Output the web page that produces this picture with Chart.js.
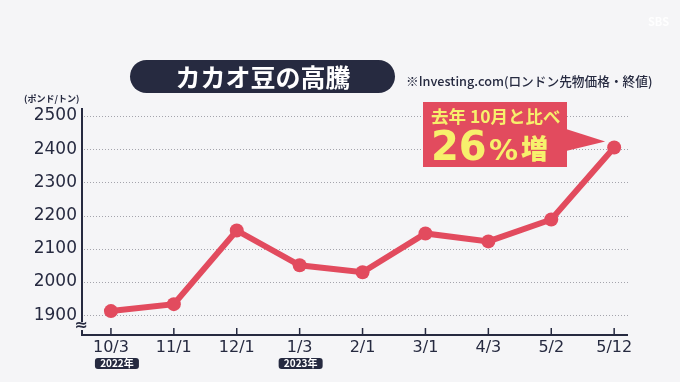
<!DOCTYPE html>
<html>
<head>
<meta charset="utf-8">
<script src="https://cdn.jsdelivr.net/npm/chart.js@4.4.1/dist/chart.umd.min.js"></script>
<style>
  html, body { margin: 0; padding: 0; background: #f5f5f7; }
  #wrap { width: 680px; height: 382px; }
</style>
</head>
<body>
<div id="wrap"><canvas id="cacaoChart" width="680" height="382"></canvas></div>
<script>
// data
const labels = ['10/3', '11/1', '12/1', '1/3', '2/1', '3/1', '4/3', '5/2', '5/12'];
const prices = [1912, 1933, 2155, 2050, 2029, 2146, 2122, 2188, 2405];
const yTicks = [1900, 2000, 2100, 2200, 2300, 2400, 2500];
const yearTags = { 0: '2022年', 3: '2023年' };

const NAVY = '#262a40';
const RED = '#e24b5e';
const YELLOW = '#f7f06c';
const JP = '"Noto Sans CJK JP", "Noto Sans", sans-serif';
const NUM = '"DejaVu Sans", sans-serif';

function roundRect(ctx, x, y, w, h, r) {
  ctx.beginPath();
  ctx.moveTo(x + r, y);
  ctx.lineTo(x + w - r, y);
  ctx.arcTo(x + w, y, x + w, y + r, r);
  ctx.lineTo(x + w, y + h - r);
  ctx.arcTo(x + w, y + h, x + w - r, y + h, r);
  ctx.lineTo(x + r, y + h);
  ctx.arcTo(x, y + h, x, y + h - r, r);
  ctx.lineTo(x, y + r);
  ctx.arcTo(x, y, x + r, y, r);
  ctx.closePath();
}

// background fill
const bgPlugin = {
  id: 'bg',
  beforeDraw(chart) {
    const c = chart.ctx;
    c.save();
    c.fillStyle = '#f5f5f7';
    c.fillRect(0, 0, chart.width, chart.height);
    c.restore();
  }
};

// dotted grid, axes lines, tick marks, break mark, year tags
const axisPlugin = {
  id: 'axisDeco',
  beforeDatasetsDraw(chart) {
    const c = chart.ctx;
    const a = chart.chartArea;
    const xs = chart.scales.x, ys = chart.scales.y;
    c.save();
    c.strokeStyle = '#a4a4ac';
    c.lineWidth = 1;
    c.setLineDash([1, 2]);
    yTicks.forEach(v => {
      const py = Math.round(ys.getPixelForValue(v)) + 0.5;
      c.beginPath();
      c.moveTo(a.left + 2, py);
      c.lineTo(a.right, py);
      c.stroke();
    });
    c.setLineDash([]);
    c.strokeStyle = NAVY;
    c.lineWidth = 2;
    c.beginPath();
    c.moveTo(a.left, a.top);
    c.lineTo(a.left, a.bottom);
    c.lineTo(a.right, a.bottom);
    c.stroke();
    c.lineWidth = 1.5;
    labels.forEach((l, i) => {
      const px = xs.getPixelForValue(i);
      c.beginPath();
      c.moveTo(px, a.bottom);
      c.lineTo(px, a.bottom - 7);
      c.stroke();
    });
    // break mark on y axis
    c.fillStyle = '#f5f5f7';
    c.fillRect(a.left - 4, a.bottom - 13, 8, 8);
    c.fillStyle = NAVY;
    c.font = 'bold 16px ' + NUM;
    c.textAlign = 'center';
    c.textBaseline = 'middle';
    c.fillText('≈', a.left - 1, a.bottom - 9);
    // year tags
    c.font = 'bold 10px ' + JP;
    Object.keys(yearTags).forEach(k => {
      const px = xs.getPixelForValue(Number(k)) + (k === '0' ? 6 : 1);
      c.fillStyle = NAVY;
      roundRect(c, px - 22, 358, 44, 11, 3);
      c.fill();
      c.fillStyle = '#ffffff';
      c.fillText(yearTags[k], px, 363.5);
    });
    c.restore();
  }
};

// title pill, source note, unit, callout
const textPlugin = {
  id: 'texts',
  afterDraw(chart) {
    const c = chart.ctx;
    c.save();
    // title
    c.fillStyle = NAVY;
    roundRect(c, 130, 60, 265, 33, 16.5);
    c.fill();
    c.fillStyle = '#ffffff';
    c.font = 'bold 25px ' + JP;
    c.textAlign = 'center';
    c.textBaseline = 'middle';
    c.fillText('カカオ豆の高騰', 263, 77);
    // source
    c.fillStyle = NAVY;
    c.font = '500 12.7px ' + JP;
    c.textAlign = 'left';
    c.fillText('※Investing.com(ロンドン先物価格・終値)', 406, 81);
    // unit
    c.font = 'bold 9px ' + JP;
    c.fillText('(ポンド/トン)', 24, 99);
    // callout box pointing at last point
    const xs = chart.scales.x, ys = chart.scales.y;
    const last = prices.length - 1;
    const tipX = xs.getPixelForValue(last) - 9;
    const tipY = ys.getPixelForValue(prices[last]) - 6;
    c.fillStyle = RED;
    c.fillRect(423, 102, 144, 65);
    c.beginPath();
    c.moveTo(566, 129);
    c.lineTo(tipX, tipY);
    c.lineTo(566, 151);
    c.closePath();
    c.fill();
    c.fillStyle = YELLOW;
    c.textAlign = 'left';
    c.font = 'bold 17.5px ' + JP;
    c.fillText('去年 10月と比べ', 431, 116);
    c.textBaseline = 'alphabetic';
    c.font = 'bold 40px ' + NUM;
    c.fillText('26', 431, 160);
    c.font = 'bold 29px ' + NUM;
    c.fillText('%', 489, 160);
    c.font = '900 27px ' + JP;
    c.fillText('増', 521, 159);
    // faint logo
    c.fillStyle = 'rgba(255,255,255,0.9)';
    c.font = 'bold 11px ' + JP;
    c.textBaseline = 'middle';
    c.fillText('SBS', 648, 22);
    c.restore();
  }
};

const ctx = document.getElementById('cacaoChart').getContext('2d');
const myChart = new Chart(ctx, {
  type: 'line',
  data: {
    datasets: [{
      data: prices.map((v, i) => ({ x: i, y: v })),
      borderColor: RED,
      backgroundColor: RED,
      borderWidth: 6,
      pointRadius: 7,
      pointBorderWidth: 0,
      pointBackgroundColor: RED,
      tension: 0,
      fill: false
    }]
  },
  options: {
    responsive: false,
    animation: false,
    layout: { padding: { left: 0, right: 52, top: 108, bottom: 0 } },
    plugins: { legend: { display: false }, tooltip: { enabled: false } },
    scales: {
      x: {
        type: 'linear',
        min: -0.46,
        max: 8.22,
        afterBuildTicks(scale) { scale.ticks = labels.map((l, i) => ({ value: i })); },
        afterFit(scale) { scale.height = 47; },
        grid: { display: false, drawTicks: false },
        border: { display: false },
        ticks: {
          callback: v => labels[v],
          color: NAVY,
          padding: 3,
          maxRotation: 0,
          autoSkip: false,
          font: { family: NUM, size: 16 }
        }
      },
      y: {
        min: 1840,
        max: 2524,
        afterBuildTicks(scale) { scale.ticks = yTicks.map(v => ({ value: v })); },
        afterFit(scale) { scale.width = 82; },
        grid: { display: false, drawTicks: false },
        border: { display: false },
        ticks: {
          callback: v => String(v),
          color: NAVY,
          padding: 5,
          font: { family: NUM, size: 17 }
        }
      }
    }
  },
  plugins: [bgPlugin, axisPlugin, textPlugin]
});
</script>
</body>
</html>
